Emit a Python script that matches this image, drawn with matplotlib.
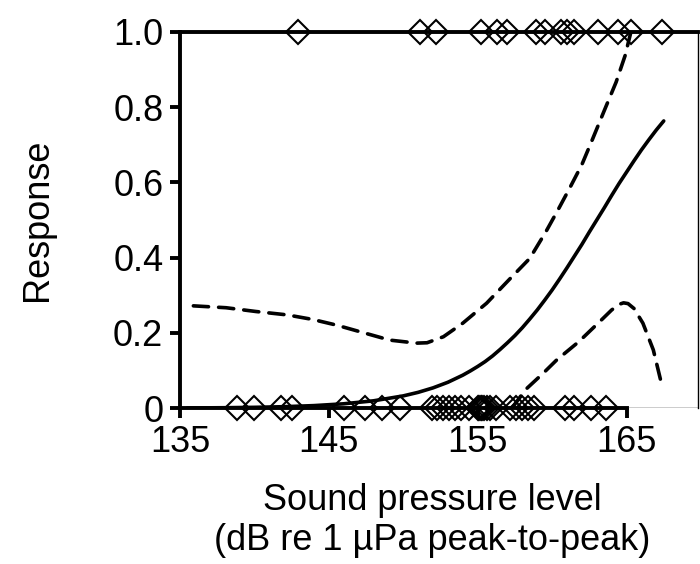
import matplotlib
matplotlib.use("Agg")
import matplotlib.pyplot as plt

plt.rcParams['font.family'] = ['Liberation Sans', 'DejaVu Sans']

# Observed responses (diamonds)
top_x = [142.9, 151.1, 152.2, 155.2, 156.3, 157.0, 158.9, 159.5, 160.6, 161.0,
         161.5, 163.1, 164.4, 165.3, 167.4]
bottom_x = [138.8, 140.0, 141.8, 142.5, 146.0, 147.4, 148.6, 149.8,
            151.9, 152.3, 152.7, 153.1, 153.5, 153.9, 154.4,
            155.0, 155.1, 155.2, 155.3, 155.4, 155.6, 155.8, 156.2,
            157.2, 157.6, 158.0, 158.4, 158.8,
            160.9, 161.5, 162.6, 163.6]

# Fitted dose-response curve (solid)
fit_x = [135.5, 138, 140, 142, 144, 146, 148, 150, 151, 152, 153, 154, 154.5, 155,
         155.5, 156, 156.5, 157, 157.5, 158, 158.5, 159, 159.5, 160, 160.5, 161,
         161.5, 162, 162.5, 163, 163.5, 164, 164.5, 165, 165.5, 166, 166.5, 167, 167.5]
fit_y = [0.0008, 0.0015, 0.0025, 0.0042, 0.0071, 0.0119, 0.0198, 0.0329, 0.0423,
         0.0542, 0.0691, 0.0879, 0.099, 0.111, 0.124, 0.139, 0.156, 0.174, 0.193,
         0.214, 0.237, 0.261, 0.287, 0.314, 0.343, 0.373, 0.404, 0.435, 0.468,
         0.500, 0.532, 0.565, 0.597, 0.627, 0.657, 0.686, 0.713, 0.739, 0.763]

# Upper confidence limit (dashed)
up_x = [135.9, 138.1, 140.1, 142.2, 143.9, 145.5, 147.3, 149.1, 150.9, 151.6,
        152.7, 154.0, 155.6, 157.1, 158.5, 159.6, 160.4, 161.2, 162.0, 162.7,
        163.5, 164.3, 164.9, 165.3]
up_y = [0.272, 0.267, 0.257, 0.248, 0.236, 0.221, 0.201, 0.181, 0.173, 0.174,
        0.190, 0.226, 0.279, 0.341, 0.398, 0.470, 0.527, 0.586, 0.647, 0.713,
        0.790, 0.866, 0.936, 1.0]

# Lower confidence limit (dashed)
lo_x = [157.3, 158.2, 159.4, 160.3, 161.8, 163.3, 164.0, 164.5, 164.8, 165.1,
        165.5, 166.1, 166.8, 167.4]
lo_y = [0.0, 0.049, 0.093, 0.128, 0.177, 0.234, 0.261, 0.276, 0.280, 0.278,
        0.265, 0.226, 0.155, 0.057]

x_ticks = [135, 145, 155, 165]
y_ticks = [0, 0.2, 0.4, 0.6, 0.8, 1.0]
y_labels = ['0', '0.2', '0.4', '0.6', '0.8', '1.0']

fig = plt.figure(figsize=(7.0, 5.64), dpi=100)
ax = fig.add_axes([0.2571, 0.2761, 0.74, 0.6677])

ax.set_xlim(135, 169.8)
ax.set_ylim(0, 1.0)

# thin baseline beyond thick axis
ax.axhline(0, color='black', lw=1.0, zorder=1)

LW = 2.6
ax.plot(fit_x, fit_y, color='black', lw=LW, solid_capstyle='round', zorder=3)
ax.plot(up_x, up_y, color='black', lw=LW, linestyle=(0, (4.2, 2.8)),
        dash_capstyle='round', zorder=3)
ax.plot(lo_x, lo_y, color='black', lw=LW, linestyle=(0, (4.2, 2.8)),
        dash_capstyle='round', zorder=3)

ax.plot(top_x, [1.0] * len(top_x), linestyle='none', marker='D', markersize=12.5,
        markerfacecolor='none', markeredgecolor='black', markeredgewidth=1.5,
        clip_on=False, zorder=4)
ax.plot(bottom_x, [0.0] * len(bottom_x), linestyle='none', marker='D', markersize=12.5,
        markerfacecolor='none', markeredgecolor='black', markeredgewidth=1.5,
        clip_on=False, zorder=4)

for s in ['left', 'bottom', 'top']:
    ax.spines[s].set_linewidth(2.8)
ax.spines['right'].set_linewidth(1.0)
ax.spines['bottom'].set_bounds(135, 165)

ax.set_xticks(x_ticks)
ax.set_xticklabels([str(t) for t in x_ticks])
ax.set_yticks(y_ticks)
ax.set_yticklabels(y_labels)
ax.tick_params(axis='both', direction='out', length=7, width=2.8,
               labelsize=26, colors='black')
ax.tick_params(axis='x', pad=5)
ax.tick_params(axis='y', pad=5)

fig.text(38 / 700, 0.61, 'Response', rotation=90, ha='center', va='center', fontsize=26)
fig.text(0.617, 1 - 500 / 564, 'Sound pressure level', ha='center', va='center', fontsize=26)
fig.text(0.617, 1 - 541 / 564, '(dB re 1 \u00b5Pa peak-to-peak)', ha='center', va='center',
         fontsize=26)

fig.savefig('out.png', dpi=100)
